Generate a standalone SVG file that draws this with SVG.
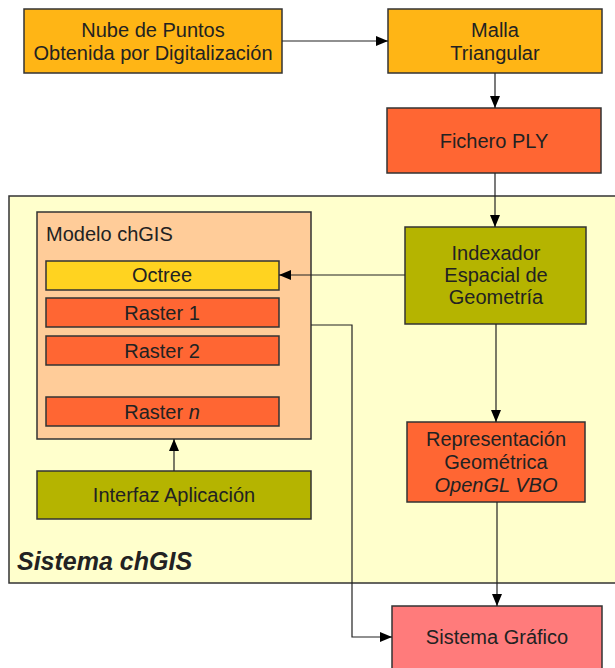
<svg xmlns="http://www.w3.org/2000/svg" width="615" height="668" viewBox="0 0 615 668">
<style>
.b{stroke:#333;stroke-width:1.5}
.t{font-family:"Liberation Sans",Arial,sans-serif;font-size:20px;fill:#222;text-anchor:middle}
.c{fill:none;stroke:#222;stroke-width:1.2}
</style>
<defs>
<marker id="ah" markerWidth="12" markerHeight="10" refX="12" refY="5" orient="auto" markerUnits="userSpaceOnUse">
<path d="M0,0 L12,5 L0,10 Z" fill="#000"/>
</marker>
</defs>
<rect width="615" height="668" fill="#fff"/>
<g id="sistema-chgis">
<rect class="b" x="9" y="196" width="620" height="387" fill="#ffffcc"/>
<text x="17" y="570" style="font-family:'Liberation Sans',Arial,sans-serif;font-size:25px;font-weight:bold;font-style:italic;fill:#222">Sistema chGIS</text>
</g>
<g id="nube">
<rect class="b" x="24" y="9" width="258" height="64" fill="#ffb515"/>
<text class="t" x="153" y="37">Nube de Puntos</text>
<text class="t" x="153" y="60">Obtenida por Digitalización</text>
</g>
<g id="malla">
<rect class="b" x="388" y="9" width="214" height="64" fill="#ffb515"/>
<text class="t" x="495" y="37">Malla</text>
<text class="t" x="495" y="60">Triangular</text>
</g>
<g id="fichero">
<rect class="b" x="387" y="108" width="214" height="65" fill="#ff6633"/>
<text class="t" x="494" y="148">Fichero PLY</text>
</g>
<g id="indexador">
<rect class="b" x="405" y="227" width="181" height="97" fill="#b5b400"/>
<text class="t" x="496" y="260">Indexador</text>
<text class="t" x="496" y="282">Espacial de</text>
<text class="t" x="496" y="304">Geometría</text>
</g>
<g id="representacion">
<rect class="b" x="407" y="422" width="178" height="80" fill="#ff6633"/>
<text class="t" x="496" y="446">Representación</text>
<text class="t" x="496" y="469">Geométrica</text>
<text class="t" x="496" y="492" font-style="italic">OpenGL VBO</text>
</g>
<g id="modelo">
<rect class="b" x="37" y="212" width="274" height="227" fill="#ffcc99"/>
<text x="46" y="241" style="font-family:'Liberation Sans',Arial,sans-serif;font-size:20px;fill:#222">Modelo chGIS</text>
</g>
<g id="octree">
<rect class="b" x="46" y="261" width="233" height="29" fill="#ffd320"/>
<text class="t" x="162" y="282">Octree</text>
</g>
<g id="raster1">
<rect class="b" x="46" y="298" width="233" height="29" fill="#ff6633"/>
<text class="t" x="162" y="320">Raster 1</text>
</g>
<g id="raster2">
<rect class="b" x="46" y="336" width="233" height="29" fill="#ff6633"/>
<text class="t" x="162" y="358">Raster 2</text>
</g>
<g id="rastern">
<rect class="b" x="46" y="397" width="233" height="29" fill="#ff6633"/>
<text class="t" x="162" y="419">Raster <tspan font-style="italic">n</tspan></text>
</g>
<g id="interfaz">
<rect class="b" x="37" y="471" width="274" height="48" fill="#b5b400"/>
<text class="t" x="174" y="502">Interfaz Aplicación</text>
</g>
<g id="grafico">
<rect class="b" x="392" y="606" width="210" height="80" fill="#ff7b7b"/>
<text class="t" x="497" y="644">Sistema Gráfico</text>
</g>
<g id="connectors">
<path class="c" d="M282,41 H388" marker-end="url(#ah)"/>
<path class="c" d="M495,73 V108" marker-end="url(#ah)"/>
<path class="c" d="M495,173 V227" marker-end="url(#ah)"/>
<path class="c" d="M405,275 H279" marker-end="url(#ah)"/>
<path class="c" d="M496,324 V422" marker-end="url(#ah)"/>
<path class="c" d="M497,502 V606" marker-end="url(#ah)"/>
<path class="c" d="M311,325 H352 V637 H392" marker-end="url(#ah)"/>
<path class="c" d="M174,471 V439" marker-end="url(#ah)"/>
</g>
</svg>
